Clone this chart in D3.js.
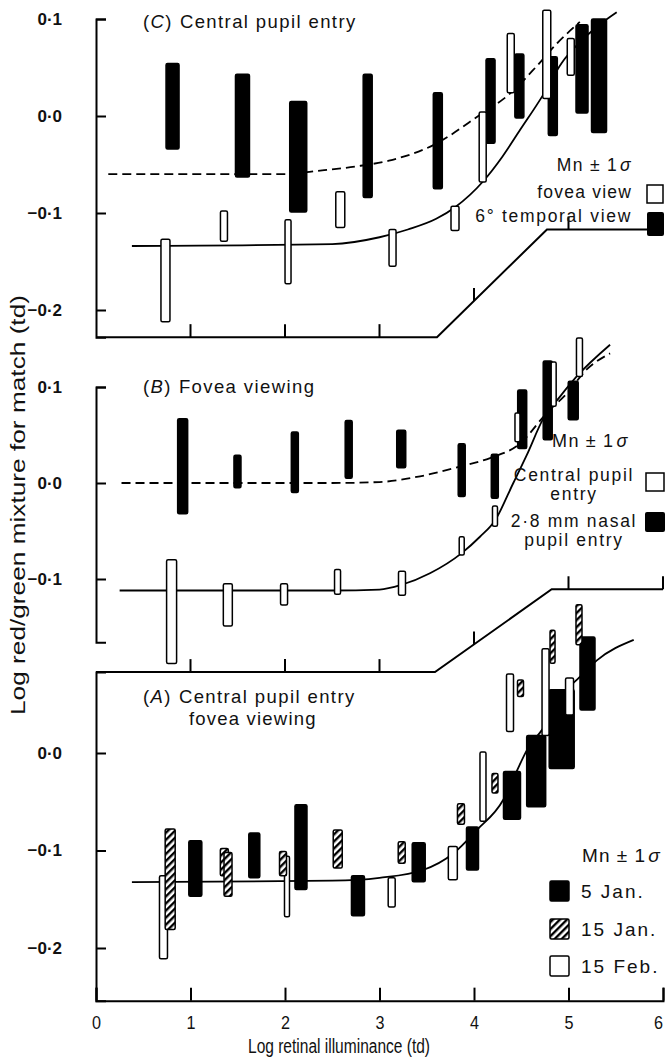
<!DOCTYPE html>
<html>
<head>
<meta charset="utf-8">
<script src="https://cdn.jsdelivr.net/npm/d3@7"></script>
<style>
  body { margin: 0; background: #fff; }
  svg text { font-family: "Liberation Sans", Arial, sans-serif; fill: #111; }
</style>
</head>
<body>
<svg id="chart" width="666" height="1057"></svg>
<script>
// every bar is mean +/- 1 sd : x = log retinal illuminance (td), lo / hi = log red/green mixture

// (C) central pupil entry
const cFoveaX  = [0.735, 1.354, 2.032, 2.585, 3.138, 3.799, 4.092, 4.389, 4.770, 5.024];
const cFoveaLo = [-0.212, -0.129, -0.173, -0.115, -0.155, -0.118, -0.068, 0.024, 0.018, 0.042];
const cFoveaHi = [-0.127, -0.098, -0.107, -0.078, -0.117, -0.093, 0.004, 0.085, 0.109, 0.080];
const cTempX  = [0.81, 1.55, 2.14, 2.875, 3.617, 4.175, 4.48, 4.834, 5.143, 5.323];
const cTempLo = [-0.034, -0.063, -0.099, -0.084, -0.075, -0.028, -0.002, -0.020, 0.003, -0.017];
const cTempHi = [0.054, 0.043, 0.015, 0.043, 0.024, 0.059, 0.064, 0.061, 0.094, 0.100];
const cFitFoveaX = [0.38, 2.5, 3.0, 3.3, 3.6, 3.8, 4.1, 4.3, 4.49, 4.72, 4.93, 5.1, 5.3, 5.51];
const cFitFoveaY = [-0.134, -0.132, -0.125, -0.117, -0.106, -0.094, -0.067, -0.042, -0.014, 0.020, 0.055, 0.074, 0.092, 0.107];
const cFitTempX = [0.13, 2.0, 2.3, 2.75, 3.1, 3.57, 4.06, 4.38, 4.66, 4.88, 5.12];
const cFitTempY = [-0.060, -0.060, -0.057, -0.052, -0.046, -0.030, 0.001, 0.023, 0.051, 0.075, 0.097];

// (B) fovea viewing
const bCentralX  = [0.80, 1.395, 1.99, 2.556, 3.238, 3.87, 4.222, 4.46, 4.843, 5.116];
const bCentralLo = [-0.188, -0.149, -0.127, -0.116, -0.117, -0.075, -0.045, 0.043, 0.080, 0.111];
const bCentralHi = [-0.080, -0.105, -0.105, -0.090, -0.092, -0.056, -0.024, 0.073, 0.126, 0.151];
const bNasalX  = [0.917, 1.497, 2.104, 2.674, 3.23, 3.87, 4.22, 4.51, 4.78, 5.05];
const bNasalLo = [-0.032, -0.005, -0.010, 0.005, 0.016, -0.014, -0.016, 0.036, 0.045, 0.066];
const bNasalHi = [0.067, 0.029, 0.053, 0.065, 0.055, 0.041, 0.030, 0.097, 0.127, 0.106];
const bFitCentralX = [0.25, 2.5, 3.0, 3.235, 3.534, 3.87, 4.063, 4.222, 4.416, 4.558, 4.733, 4.91, 5.087, 5.44];
const bFitCentralY = [-0.112, -0.112, -0.111, -0.106, -0.094, -0.073, -0.056, -0.039, 0.000, 0.029, 0.067, 0.090, 0.111, 0.144];
const bFitNasalX = [0.27, 2.5, 3.0, 3.43, 3.85, 4.17, 4.487, 4.77, 4.98, 5.19, 5.44];
const bFitNasalY = [0.000, 0.000, 0.001, 0.007, 0.017, 0.026, 0.041, 0.073, 0.093, 0.118, 0.135];

// (A) central pupil entry, fovea viewing, three sessions
const aJan5X  = [1.051, 1.675, 2.169, 2.772, 3.415, 3.984, 4.402, 4.658, 4.928, 5.201];
const aJan5Lo = [-0.147, -0.128, -0.140, -0.167, -0.132, -0.120, -0.068, -0.055, -0.016, 0.044];
const aJan5Hi = [-0.090, -0.082, -0.053, -0.126, -0.092, -0.076, -0.019, 0.018, 0.065, 0.119];
const aJan15X  = [0.785, 1.358, 1.397, 1.979, 2.558, 3.235, 3.862, 4.222, 4.492, 4.831, 5.111];
const aJan15Lo = [-0.181, -0.126, -0.147, -0.126, -0.118, -0.113, -0.073, -0.041, 0.058, 0.092, 0.111];
const aJan15Hi = [-0.078, -0.098, -0.102, -0.101, -0.079, -0.091, -0.052, -0.021, 0.075, 0.126, 0.152];
const aFeb15X  = [0.714, 2.021, 3.129, 3.776, 4.095, 4.381, 4.757, 5.011];
const aFeb15Lo = [-0.211, -0.168, -0.158, -0.130, -0.070, 0.022, 0.018, 0.039];
const aFeb15Hi = [-0.126, -0.106, -0.128, -0.096, 0.001, 0.081, 0.107, 0.077];
const aFitX = [0.38, 2.5, 3.0, 3.46, 3.78, 4.03, 4.31, 4.45, 4.56, 4.73, 4.98, 5.12, 5.3, 5.69];
const aFitY = [-0.1325, -0.131, -0.128, -0.120, -0.103, -0.079, -0.048, -0.019, 0.003, 0.025, 0.0645, 0.078, 0.095, 0.116];

const xTicks = [0, 1, 2, 3, 4, 5, 6];

// bar widths (px), as printed
const wCFovea = [9, 7, 6, 9, 7, 8, 7, 7, 8, 7];
const wCTemp = [13, 14, 17, 9, 9, 9, 9, 9, 12, 15];
const wBCentral = [10, 9, 7, 6, 7, 5, 5, 5, 5, 6];
const wBNasal = [10, 7, 7, 7, 9, 7, 7, 9, 9, 10];
const wAJan5 = [13, 11, 12, 13, 13, 12, 17, 19, 25, 15];
const wAJan15 = [10, 8, 8, 7, 9, 7, 7, 6, 6, 5, 6];
const wAFeb15 = [8, 5, 7, 9, 6, 7, 7, 8];

const svg = d3.select("#chart");

const x = d3.scaleLinear().domain([0, 6]).range([96, 663]);
const yC = d3.scaleLinear().domain([-0.2, 0.1]).range([310, 19]);
const yB = d3.scaleLinear().domain([-0.1, 0.1]).range([579, 387]);
const yA = d3.scaleLinear().domain([-0.2, 0.0]).range([948, 753]);

const fmt = (v) => (v < -1e-9 ? "\u2212" : "") + Math.abs(v).toFixed(1).replace(".", "\u00b7");

// hatching for 15 Jan.
svg.append("defs").append("pattern")
  .attr("id", "hatch")
  .attr("patternUnits", "userSpaceOnUse")
  .attr("width", 5).attr("height", 5)
  .attr("patternTransform", "rotate(45)")
  .call((p) => {
    p.append("rect").attr("width", 5).attr("height", 5).attr("fill", "#fff");
    p.append("line").attr("x1", 1.2).attr("x2", 1.2).attr("y1", 0).attr("y2", 5)
      .attr("stroke", "#000").attr("stroke-width", 2.4);
  });

function leftAxis(y, lo, hi, ticks) {
  const s = d3.scaleLinear().domain([lo, hi]).range([y(lo), y(hi)]);
  const g = svg.append("g").attr("transform", "translate(96,0)")
    .call(d3.axisLeft(s).tickValues(ticks).tickFormat(fmt)
      .tickSizeInner(-10).tickSizeOuter(-10).tickPadding(34));
  g.select(".domain").attr("stroke", "#000").attr("stroke-width", 2);
  g.selectAll(".tick line").attr("stroke", "#000").attr("stroke-width", 2);
  g.selectAll(".tick text").attr("font-size", 17).attr("font-weight", "bold")
    .attr("fill", "#111").style("font-family", "'Liberation Sans', Arial, sans-serif");
}

function brokenAxis(y, pts) {
  const line = d3.line().x((d) => x(d[0])).y((d) => y(d[1]));
  svg.append("path").attr("d", line(pts)).attr("fill", "none")
    .attr("stroke", "#000").attr("stroke-width", 2);
  const px = pts.map((d) => [x(d[0]), y(d[1])]);
  xTicks.slice(1).forEach((t) => {
    const tx = x(t);
    let ty = px[px.length - 1][1];
    for (let i = 0; i < px.length - 1; i++) {
      if (tx >= px[i][0] && tx <= px[i + 1][0]) {
        ty = px[i][1] + (px[i + 1][1] - px[i][1]) * (tx - px[i][0]) / (px[i + 1][0] - px[i][0]);
        break;
      }
    }
    svg.append("line").attr("x1", tx).attr("x2", tx).attr("y1", ty).attr("y2", ty - 13)
      .attr("stroke", "#000").attr("stroke-width", 2);
  });
}

function curve(y, xs, ys, dashed) {
  const line = d3.line().x((d) => x(d)).y((d, i) => y(ys[i])).curve(d3.curveMonotoneX);
  svg.append("path").attr("d", line(xs)).attr("fill", "none")
    .attr("stroke", "#000").attr("stroke-width", 1.8)
    .attr("stroke-dasharray", dashed ? "9,5" : null);
}

function bars(y, xs, lo, hi, widths, fill) {
  svg.append("g").selectAll("rect").data(xs).join("rect")
    .attr("x", (d, i) => x(d) - widths[i] / 2)
    .attr("width", (d, i) => widths[i])
    .attr("y", (d, i) => y(hi[i]))
    .attr("height", (d, i) => y(lo[i]) - y(hi[i]))
    .attr("rx", 1.5)
    .attr("fill", fill)
    .attr("stroke", "#000")
    .attr("stroke-width", 1.5);
}

// ---- panel C ----
leftAxis(yC, -0.228, 0.1, [0.1, 0, -0.1, -0.2]);
brokenAxis(yC, [[0, -0.228], [3.608, -0.228], [4.772, -0.117], [6, -0.117]]);
curve(yC, cFitTempX, cFitTempY, true);
curve(yC, cFitFoveaX, cFitFoveaY, false);
bars(yC, cTempX, cTempLo, cTempHi, wCTemp, "#000");
bars(yC, cFoveaX, cFoveaLo, cFoveaHi, wCFovea, "#fff");

// ---- panel B ----
leftAxis(yB, -0.166, 0.1, [0.1, 0, -0.1]);
brokenAxis(yB, [[0, -0.197], [3.587, -0.197], [4.822, -0.1107], [6, -0.1107]]);
curve(yB, bFitNasalX, bFitNasalY, true);
curve(yB, bFitCentralX, bFitCentralY, false);
bars(yB, bNasalX, bNasalLo, bNasalHi, wBNasal, "#000");
bars(yB, bCentralX, bCentralLo, bCentralHi, wBCentral, "#fff");

// ---- panel A ----
leftAxis(yA, -0.254, 0.083, [0, -0.1, -0.2]);
const xa = svg.append("g").attr("transform", `translate(0,${yA(-0.254)})`)
  .call(d3.axisBottom(x).tickValues(xTicks).tickFormat(d3.format("d"))
    .tickSizeInner(-13).tickSizeOuter(-13).tickPadding(16));
xa.select(".domain").attr("stroke", "#000").attr("stroke-width", 2);
xa.selectAll(".tick line").attr("stroke", "#000").attr("stroke-width", 2);
xa.selectAll(".tick text").attr("font-size", 18).attr("fill", "#111")
  .attr("textLength", 9).attr("lengthAdjust", "spacingAndGlyphs")
  .attr("dx", (d) => (d === 6 ? -5 : 0))
  .style("font-family", "'Liberation Sans', sans-serif");
curve(yA, aFitX, aFitY, false);
bars(yA, aJan5X, aJan5Lo, aJan5Hi, wAJan5, "#000");
bars(yA, aFeb15X, aFeb15Lo, aFeb15Hi, wAFeb15, "#fff");
bars(yA, aJan15X, aJan15Lo, aJan15Hi, wAJan15, "url(#hatch)");

// ---- titles ----
function panelTitle(letter, label, ty) {
  const t = svg.append("text").attr("x", 143).attr("y", ty)
    .attr("font-size", 18.5).attr("letter-spacing", 1.4);
  t.append("tspan").text("(");
  t.append("tspan").attr("font-style", "italic").text(letter);
  t.append("tspan").text(")");
  t.append("tspan").attr("dx", 7).text(label);
}
panelTitle("C", "Central pupil entry", 28);
panelTitle("B", "Fovea viewing", 393);
panelTitle("A", "Central pupil entry", 703);
svg.append("text").attr("x", 189).attr("y", 725).attr("font-size", 18.5)
  .attr("letter-spacing", 1.2).text("fovea viewing");

// ---- legends ----
function mn(t) {
  t.append("tspan").text("Mn");
  t.append("tspan").attr("dx", 6).text("\u00b1");
  t.append("tspan").attr("dx", 6).text("1");
  t.append("tspan").attr("dx", 2).attr("font-style", "italic").text("\u03c3");
}

// C
mn(svg.append("text").attr("x", 632).attr("y", 171).attr("text-anchor", "end")
  .attr("font-size", 17.5).attr("letter-spacing", 1.4));
svg.append("text").attr("x", 632).attr("y", 198).attr("text-anchor", "end")
  .attr("font-size", 17.5).attr("letter-spacing", 1.2).text("fovea view");
svg.append("text").attr("x", 632).attr("y", 222).attr("text-anchor", "end")
  .attr("font-size", 17.5).attr("letter-spacing", 1.7).text("6\u00b0 temporal view");
svg.append("rect").attr("x", 647).attr("y", 185).attr("width", 16).attr("height", 18)
  .attr("fill", "#fff").attr("stroke", "#000").attr("stroke-width", 1.5);
svg.append("rect").attr("x", 647).attr("y", 212).attr("width", 17).attr("height", 24).attr("rx", 2)
  .attr("fill", "#000");

// B
mn(svg.append("text").attr("x", 552).attr("y", 447)
  .attr("font-size", 18).attr("letter-spacing", 1.4));
[["Central pupil", 481], ["entry", 500], ["2\u00b78 mm nasal", 527], ["pupil entry", 546]].forEach(([s, ty]) => {
  svg.append("text").attr("x", 574).attr("y", ty).attr("text-anchor", "middle")
    .attr("font-size", 17.5).attr("letter-spacing", 1.7).text(s);
});
svg.append("rect").attr("x", 646).attr("y", 473).attr("width", 18).attr("height", 18)
  .attr("fill", "#fff").attr("stroke", "#000").attr("stroke-width", 1.5);
svg.append("rect").attr("x", 645).attr("y", 512).attr("width", 20).attr("height", 20).attr("rx", 2)
  .attr("fill", "#000");

// A
mn(svg.append("text").attr("x", 582).attr("y", 862)
  .attr("font-size", 19).attr("letter-spacing", 1.2));
[["5 Jan.", 898, "#000"], ["15 Jan.", 936, "url(#hatch)"], ["15 Feb.", 973, "#fff"]].forEach(([s, ty, f]) => {
  svg.append("text").attr("x", 581).attr("y", ty)
    .attr("font-size", 19).attr("letter-spacing", 2).text(s);
  svg.append("rect").attr("x", 550).attr("y", ty - 17).attr("width", 19).attr("height", 20)
    .attr("rx", 1.5).attr("fill", f).attr("stroke", "#000").attr("stroke-width", 1.5);
});

// ---- axis titles ----
svg.append("text")
  .attr("x", 339).attr("y", 1053).attr("text-anchor", "middle")
  .attr("font-size", 20).attr("textLength", 182).attr("lengthAdjust", "spacingAndGlyphs")
  .text("Log retinal illuminance (td)");
svg.append("text")
  .attr("transform", "translate(25,505) rotate(-90)").attr("text-anchor", "middle")
  .attr("font-size", 20).attr("textLength", 420).attr("lengthAdjust", "spacingAndGlyphs")
  .text("Log red/green mixture for match (td)");
</script>
</body>
</html>
